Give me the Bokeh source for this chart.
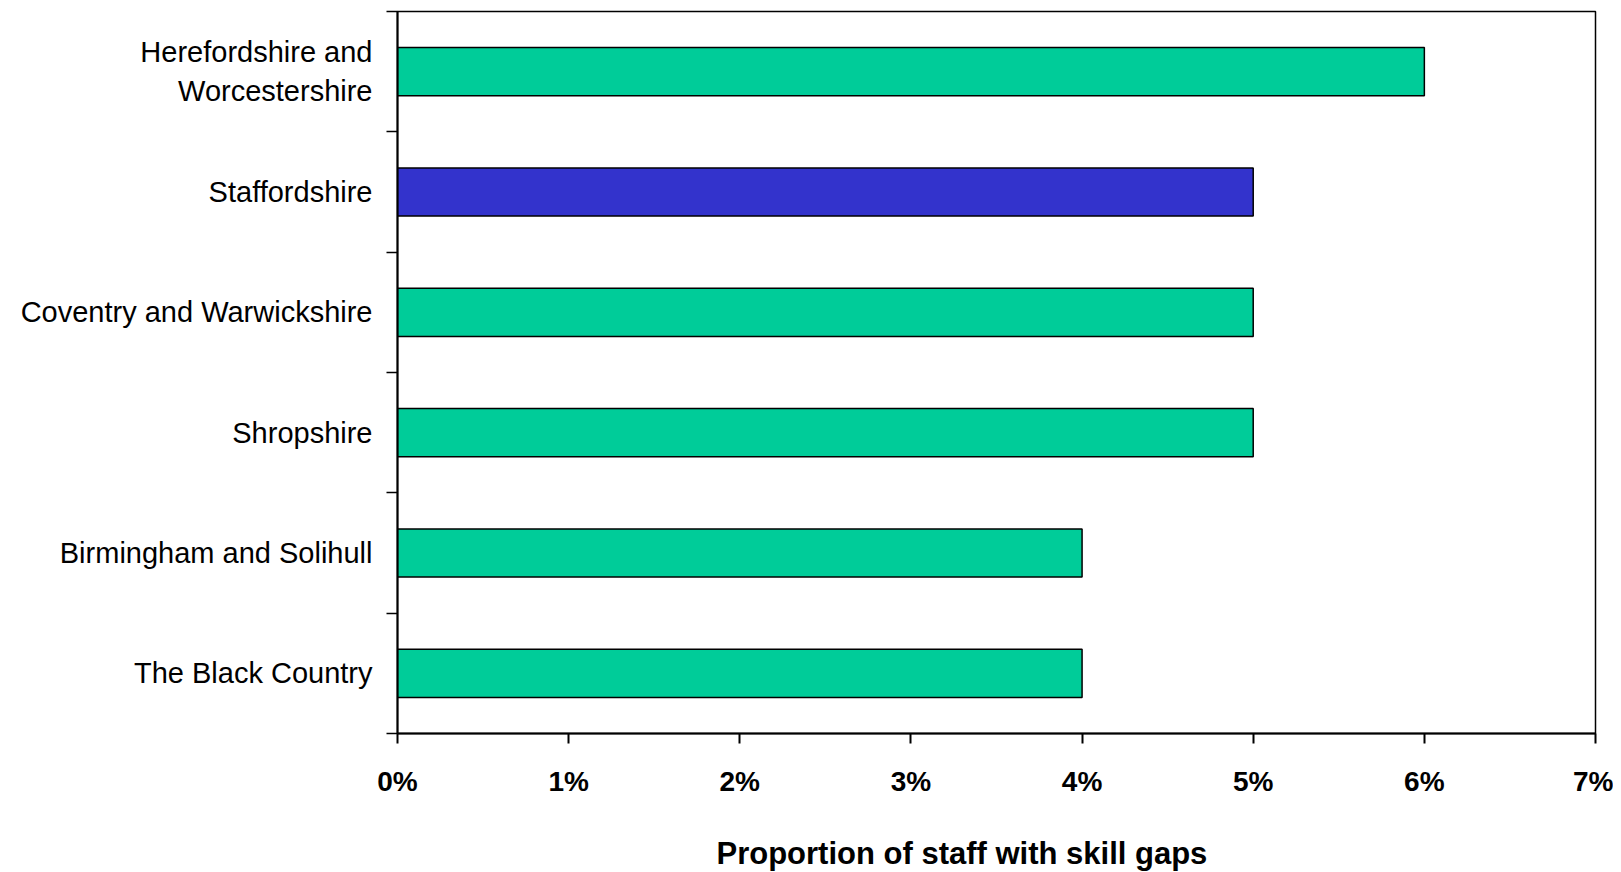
from bokeh.plotting import figure
from bokeh.models import FixedTicker, NumeralTickFormatter, ColumnDataSource, Range1d
from bokeh.embed import file_html
from bokeh.resources import INLINE

categories = [
    "Herefordshire and\nWorcestershire",
    "Staffordshire",
    "Coventry and Warwickshire",
    "Shropshire",
    "Birmingham and Solihull",
    "The Black Country",
]
values = [0.06, 0.05, 0.05, 0.05, 0.04, 0.04]
colors = ["#00CC99", "#3333CC", "#00CC99", "#00CC99", "#00CC99", "#00CC99"]
x_ticks = [0, 0.01, 0.02, 0.03, 0.04, 0.05, 0.06, 0.07]
x_label = "Proportion of staff with skill gaps"

n = len(categories)
ypos = [n - i - 0.5 for i in range(n)]
src = ColumnDataSource(dict(y=ypos, v=values, c=colors, cat=categories))

FONT = "Liberation Sans"

p = figure(
    frame_width=1198, frame_height=722,
    min_border_left=397, min_border_right=18, min_border_top=11, min_border_bottom=135,
    x_range=Range1d(0, 0.07), y_range=Range1d(0, n),
    output_backend="svg", toolbar_location=None,
    title=x_label, title_location="below",
)
p.hbar(y="y", right="v", left=0, height=0.4, fill_color="c", line_color="black",
       line_width=1.5, source=src)

p.xgrid.visible = False
p.ygrid.visible = False
p.outline_line_color = "black"
p.outline_line_width = 1.5
p.background_fill_color = "white"
p.border_fill_color = "white"

xa = p.xaxis[0]
xa.ticker = FixedTicker(ticks=x_ticks, minor_ticks=[])
xa.formatter = NumeralTickFormatter(format="0%")
xa.major_tick_in = 0
xa.major_tick_out = 10
xa.minor_tick_out = 0
xa.minor_tick_in = 0
xa.axis_line_width = 2
xa.axis_line_color = "black"
xa.major_tick_line_width = 2
xa.major_tick_line_color = "black"
xa.major_label_text_font = FONT
xa.major_label_text_font_size = "28px"
xa.major_label_text_font_style = "bold"
xa.major_label_text_color = "black"
xa.major_label_standoff = 22

ya = p.yaxis[0]
ya.ticker = FixedTicker(ticks=ypos, minor_ticks=list(range(n + 1)))
ya.major_label_overrides = {y: c for y, c in zip(ypos, categories)}
ya.major_tick_in = 0
ya.major_tick_out = 0
ya.minor_tick_in = 0
ya.minor_tick_out = 11
ya.minor_tick_line_width = 1.5
ya.minor_tick_line_color = "black"
ya.axis_line_width = 2
ya.axis_line_color = "black"
ya.major_label_text_font = FONT
ya.major_label_text_font_size = "29px"
ya.major_label_text_color = "black"
ya.major_label_standoff = 14

p.title.align = "left"
p.title.offset = 319
p.title.text_font = FONT
p.title.text_font_size = "31px"
p.title.text_font_style = "bold"
p.title.text_color = "black"
p.title.standoff = 68

open("out.html", "w").write(file_html(p, INLINE))
